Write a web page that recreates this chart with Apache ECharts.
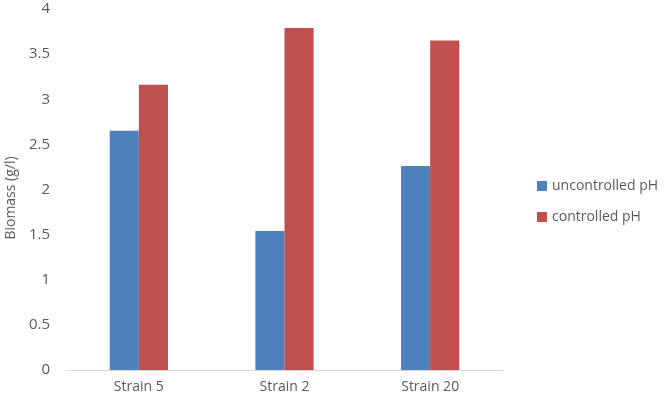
<!DOCTYPE html>
<html>
<head>
<meta charset="utf-8">
<script src="https://cdn.jsdelivr.net/npm/echarts@6/dist/echarts.min.js"></script>
<style>
html, body { margin: 0; padding: 0; background: #fff; }
#chart { width: 666px; height: 404px; }
</style>
</head>
<body>
<div id="chart"></div>
<script>
var strains = ['Strain 5', 'Strain 2', 'Strain 20'];
var uncontrolled = [2.65, 1.54, 2.26];
var controlled = [3.16, 3.79, 3.65];
var yTicks = [0, 0.5, 1, 1.5, 2, 2.5, 3, 3.5, 4];

var font = 'Open Sans';
var myChart = echarts.init(document.getElementById('chart'));
myChart.setOption({
	animation: false,
	textStyle: { fontFamily: font },
	grid: { left: 66, right: 163, top: 9, bottom: 34 },
	legend: {
		orient: 'vertical',
		left: 532,
		top: 174,
		itemWidth: 10,
		itemHeight: 10,
		itemGap: 17,
		icon: 'rect',
		textStyle: { fontFamily: font, fontSize: 14, color: '#595959' },
		data: ['uncontrolled pH', 'controlled pH']
	},
	graphic: [{
		type: 'text',
		x: 4,
		y: 198,
		rotation: Math.PI / 2,
		style: {
			text: 'Biomass (g/l)',
			fontFamily: font,
			fontSize: 14,
			fill: '#595959',
			align: 'center',
			verticalAlign: 'top'
		}
	}],
	xAxis: {
		type: 'category',
		data: strains,
		axisLine: { lineStyle: { color: '#D9D9D9', width: 1 } },
		axisTick: { show: false },
		axisLabel: { color: '#595959', fontSize: 14, margin: 10 }
	},
	yAxis: {
		type: 'value',
		min: yTicks[0],
		max: yTicks[yTicks.length - 1],
		interval: 0.5,
		axisLine: { show: false },
		axisTick: { show: false },
		splitLine: { show: false },
		axisLabel: { color: '#595959', fontSize: 15, margin: 16 }
	},
	series: [{
		name: 'uncontrolled pH',
		type: 'bar',
		data: uncontrolled,
		barGap: '0%',
		barCategoryGap: '60%',
		itemStyle: { color: '#4F81BD' }
	}, {
		name: 'controlled pH',
		type: 'bar',
		data: controlled,
		barGap: '0%',
		barCategoryGap: '60%',
		itemStyle: { color: '#C0504D' }
	}]
});
</script>
</body>
</html>
